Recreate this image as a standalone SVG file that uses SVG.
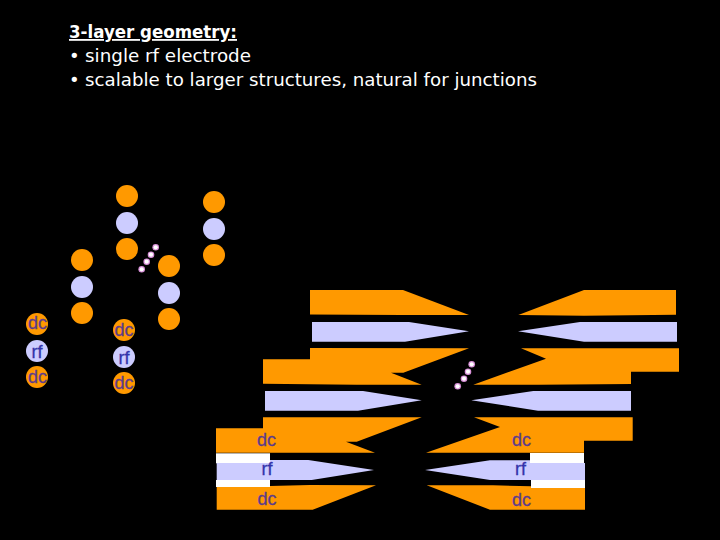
<svg xmlns="http://www.w3.org/2000/svg" width="720" height="540" viewBox="0 0 720 540">
<style>
.bg{fill:#000}
.o{fill:#ff9900}
.b{fill:#ccccff}
.w{fill:#fff}
.t{font-family:"DejaVu Sans",Verdana,sans-serif;font-size:18px;fill:#fff}
.h{font-weight:bold}
.l{font-family:"Liberation Sans",Arial,sans-serif;font-size:18px;text-anchor:middle;stroke-width:.3px}
.dc{fill:#5c3c8c;stroke:#5c3c8c}
.rf{fill:#3333aa;stroke:#3333aa}
.g{fill:#d890d8}
.d{fill:#fff}
</style>
<defs>
<g id="dot"><circle r="3.3" class="g"/><circle r="2.1" class="d"/></g>
<g id="stack"><circle cy="0" r="11" class="o"/><circle cy="27" r="11" class="b"/><circle cy="53" r="11" class="o"/></g>
</defs>
<rect class="bg" width="720" height="540"/>
<g id="title">
<text class="t h" x="69" y="38" textLength="168" lengthAdjust="spacingAndGlyphs" text-decoration="underline">3-layer geometry:</text>
<text class="t" x="69" y="62">•</text>
<text class="t" x="85" y="62" textLength="166" lengthAdjust="spacingAndGlyphs">single rf electrode</text>
<text class="t" x="69" y="86">•</text>
<text class="t" x="85" y="86" textLength="452" lengthAdjust="spacingAndGlyphs">scalable to larger structures, natural for junctions</text>
</g>
<g id="stack-back-left"><use href="#stack" x="127" y="196"/></g>
<g id="stack-back-right"><use href="#stack" x="214" y="202"/></g>
<g id="stack-mid-left"><use href="#stack" x="82" y="260"/></g>
<g id="stack-mid-right"><use href="#stack" x="169" y="266"/></g>
<g id="stack-front-left"><use href="#stack" x="37" y="324"/>
<text class="l dc" x="37.500" y="329">dc</text><text class="l rf" x="37" y="358">rf</text><text class="l dc" x="37.500" y="383">dc</text></g>
<g id="stack-front-right"><use href="#stack" x="124" y="330"/>
<text class="l dc" x="124" y="336">dc</text><text class="l rf" x="124" y="364">rf</text><text class="l dc" x="124" y="389">dc</text></g>
<g id="dots-circles"><use href="#dot" x="155.7" y="247.3"/><use href="#dot" x="151" y="254.7"/><use href="#dot" x="146.7" y="261.7"/><use href="#dot" x="141.7" y="269.3"/></g>
<g id="layer-back-left">
<polygon class="o" points="310,290 403,290 469,315 403,315 310,314.5"/>
<polygon class="b" points="312,322 409,322 469,331.3 405,341.7 312,341.7"/>
<polygon class="o" points="310,348 469,348.3 403.3,372.7 391,372.7 421.7,384.7 356.7,384.7 263,383.7 263,359.3 310,359.3"/>
</g>
<g id="layer-back-right">
<polygon class="o" points="518.3,315 584,290 676,290 676,314.7 584,315.7"/>
<polygon class="b" points="518,331.3 580,322 677,322 677,341.7 584,341.7"/>
<polygon class="o" points="521,348.3 679,348.3 679,371.7 631,371.7 631,384 538.3,384.7 473.3,384.7 546,358.7"/>
</g>
<g id="layer-mid-left">
<polygon class="b" points="265,391 363,391 421.7,400.3 358,410.7 265,410.7"/>
<polygon class="o" points="263,417.3 421.7,417.3 356.7,441.7 346,441.7 375,452.7 216,452.7 216,428.3 263,428.3"/>
</g>
<g id="layer-mid-right">
<polygon class="b" points="471.3,400.3 533.3,391 631,391 631,410.7 538,410.7"/>
<polygon class="o" points="474,417.3 632.7,417.3 632.7,440.7 584,440.7 584,452.7 426,452.7 500,427"/>
</g>
<g id="layer-front-left">
<rect class="w" x="216" y="453.3" width="54" height="10"/>
<rect class="w" x="216" y="480" width="54" height="7"/>
<polygon class="b" points="216.7,463 270,463 270,460 308.3,460 374,470 311.7,480 216.7,480"/>
<polygon class="o" points="216.7,487 270,487 270,486 310,485 376,485.3 312.7,509.7 216.7,509.7"/>
<text class="l dc" x="266.500" y="446">dc</text><text class="l rf" x="267" y="475">rf</text><text class="l dc" x="267" y="505">dc</text>
</g>
<g id="layer-front-right">
<rect class="w" x="530" y="453" width="54" height="10"/>
<rect class="w" x="531" y="480" width="54" height="8"/>
<polygon class="b" points="425,470 490,460.3 530,460.300 530,463 585,463 585,480 490,480"/>
<polygon class="o" points="426.700,485.3 493,485.3 531,486.300 531,488 585,488 585,509.7 490,509.700"/>
<text class="l dc" x="521.500" y="446">dc</text><text class="l rf" x="520.500" y="475">rf</text><text class="l dc" x="521.500" y="506">dc</text>
</g>
<g id="dots-layers"><use href="#dot" x="471.7" y="364.3"/><use href="#dot" x="468" y="371.7"/><use href="#dot" x="464" y="378.7"/><use href="#dot" x="457.700" y="386.3"/></g>
</svg>
